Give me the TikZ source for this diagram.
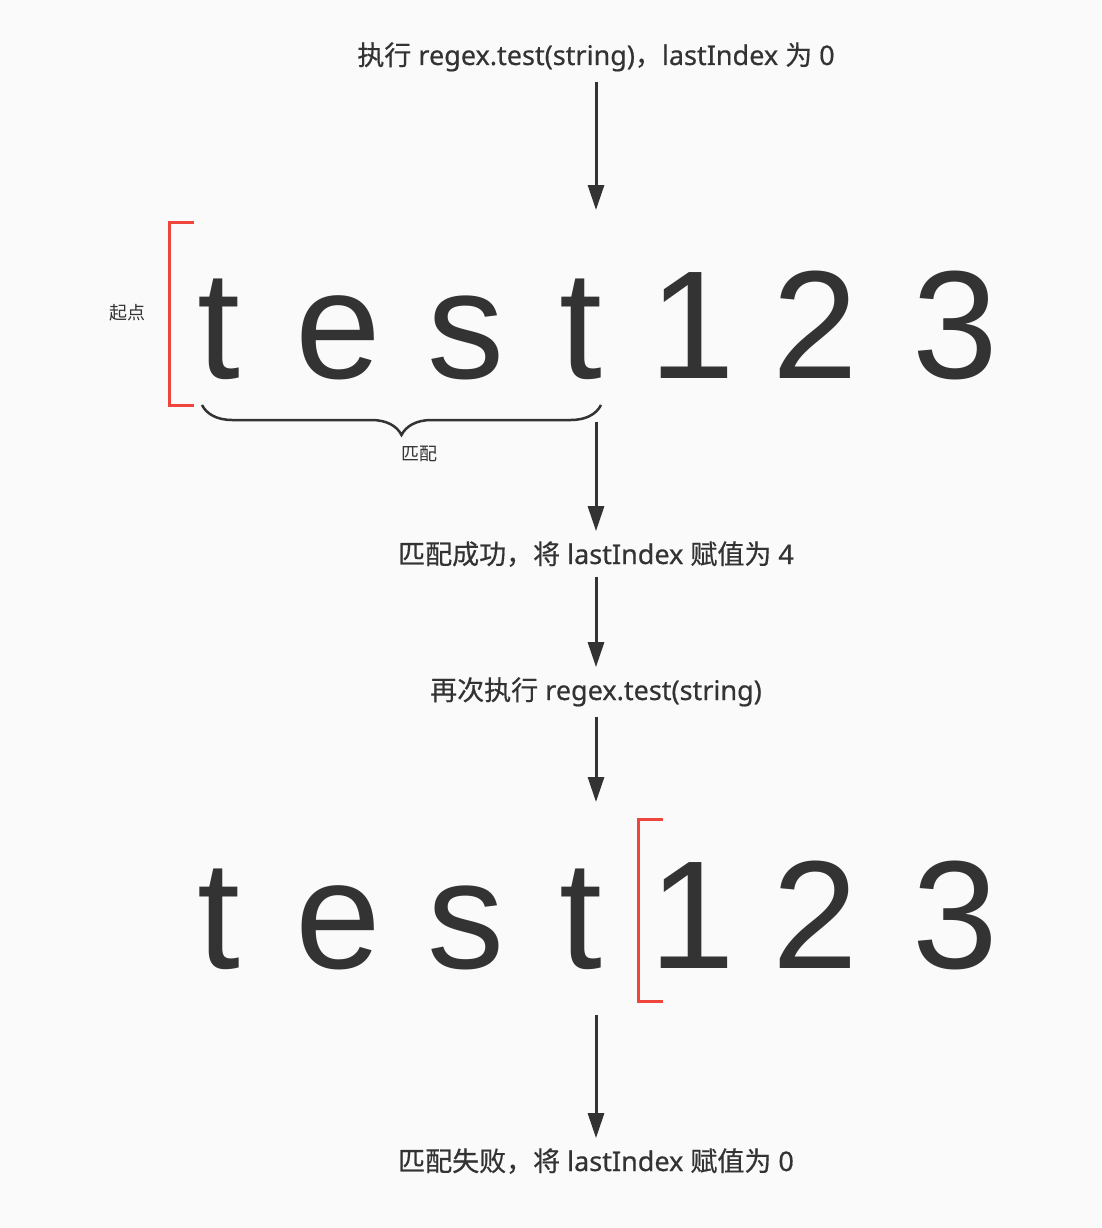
\documentclass[tikz,border=0pt]{standalone}
\usepackage{fontspec}
\usepackage{xcolor}
\usepackage{tikz}
\usetikzlibrary{arrows.meta,decorations.pathreplacing}
\setmainfont{Noto Sans}[FakeBold=0.5]
\newfontfamily\cjk{Noto Sans CJK SC}[FakeBold=0.5]
\newfontfamily\cjknote{Noto Sans CJK SC}
\newfontfamily\bigfont{Liberation Sans}
\definecolor{ink}{HTML}{333333}
\definecolor{mark}{HTML}{EE463C}
\definecolor{paper}{HTML}{FAFAFA}

\begin{document}
\begin{tikzpicture}[x=1pt,y=-1pt,
    steplabel/.style={inner sep=10pt,anchor=base,text=ink,font=\fontsize{27}{30}\selectfont},
    notelabel/.style={inner sep=0pt,text=ink,font=\cjknote\fontsize{18}{20}\selectfont},
    bigchar/.style={inner sep=0pt,anchor=base,text=ink,font=\bigfont\fontsize{154}{154}\selectfont},
    flow/.style={draw=ink,line width=3pt,-{Triangle[width=16pt,length=25pt]}},
    startmark/.style={draw=mark,line width=3pt}]
    \fill[paper] (0,0) rectangle (1101,1228);
    \useasboundingbox (0,0) rectangle (1101,1228);

    \node[steplabel] (L0) at (596,65) {{\cjk 执行} regex.test(string){\cjk ，}lastIndex {\cjk 为} 0};
    \node[steplabel] (L1) at (596,564) {{\cjk 匹配成功，将} lastIndex {\cjk 赋值为} 4};
    \node[steplabel] (L2) at (596,700) {{\cjk 再次执行} regex.test(string)};
    \node[steplabel] (L3) at (596,1171) {{\cjk 匹配失败，将} lastIndex {\cjk 赋值为} 0};

    \foreach \ch/\x [count=\i] in {t/219,e/338,s/466,t/581,1/692,2/815,3/955} {
        \node[bigchar] (A\i) at (\x,378) {\ch};
        \node[bigchar] (B\i) at (\x,968) {\ch};
    }

    \draw[startmark] (194,222) -| (169,405) -- (194,405);
    \node[notelabel] (start) at (127,313) {起点};
    \draw[draw=ink,line width=2.5pt,decorate,decoration={brace,mirror,amplitude=30pt}] (202,405) -- (601,405);
    \node[notelabel] (match) at (419,454) {匹配};
    \draw[startmark] (663,819) -| (638,1001) -- (663,1001);

    \coordinate (in0) at (596,210);
    \coordinate (out0) at (596,422);
    \coordinate (in1) at (596,802);
    \coordinate (out1) at (596,1015);
    \draw[flow] (L0) -- (in0);
    \draw[flow] (out0) -- (L1);
    \draw[flow] (L1) -- (L2);
    \draw[flow] (L2) -- (in1);
    \draw[flow] (out1) -- (L3);
\end{tikzpicture}
\end{document}
